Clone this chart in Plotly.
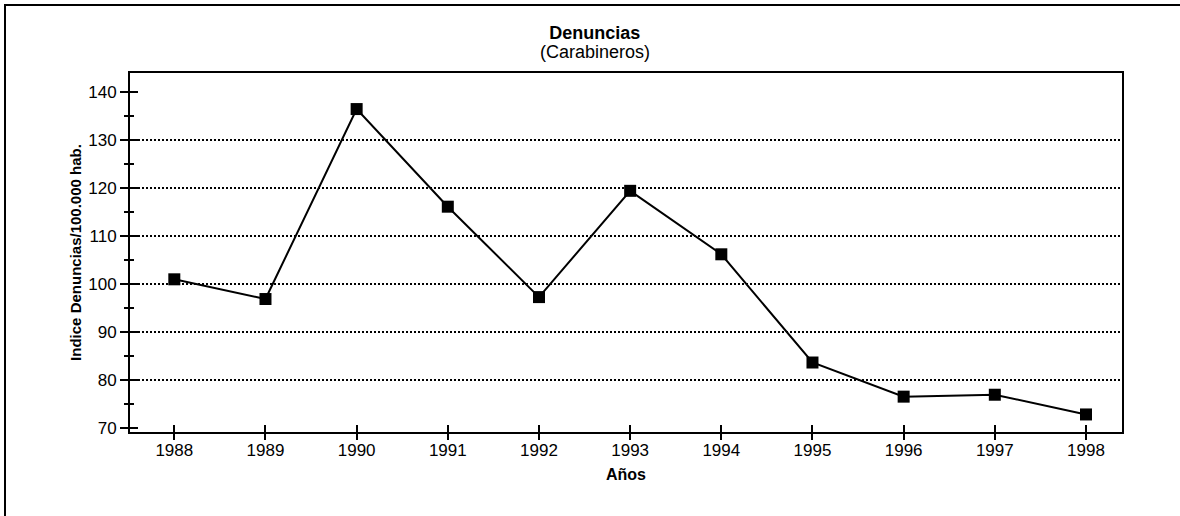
import plotly.graph_objects as go

years = [1988, 1989, 1990, 1991, 1992, 1993, 1994, 1995, 1996, 1997, 1998]
denuncias = [101.0, 96.9, 136.4, 116.1, 97.3, 119.4, 106.2, 83.7, 76.6, 77.0, 72.9]
y_ticks = [70, 80, 90, 100, 110, 120, 130, 140]
grid_vals = [80, 90, 100, 110, 120, 130]

FONT = "Liberation Sans, Arial, sans-serif"
x_range = [1987.514, 1998.395]
y_range = [69.25, 143.9]

fig = go.Figure()
fig.add_trace(go.Scatter(
    x=years, y=denuncias, mode="lines+markers",
    line=dict(color="black", width=2),
    marker=dict(symbol="square", size=12, color="black"),
    showlegend=False, hoverinfo="x+y",
))
# helper invisible traces so the overlay tick / grid axes are drawn
for xa, ya in [("x2", "y2"), ("x3", "y3"), ("x", "y4")]:
    fig.add_trace(go.Scatter(x=years, y=denuncias, xaxis=xa, yaxis=ya, mode="lines",
                             line=dict(width=0), opacity=0, showlegend=False, hoverinfo="skip"))

tick_common = dict(tickwidth=2, tickcolor="black", showline=False, showgrid=False, zeroline=False,
                   showticklabels=False)

fig.update_layout(
    width=1180, height=516,
    margin=dict(l=130, r=58, t=73, b=84),
    paper_bgcolor="white", plot_bgcolor="rgba(0,0,0,0)",
    font=dict(family=FONT, size=17, color="black"),
    title=dict(
        text="<b>Denuncias</b>",
        x=0.504, xref="container", xanchor="center",
        y=1 - 33 / 516, yref="container", yanchor="middle",
        font=dict(family=FONT, size=18, color="black"),
    ),
    annotations=[dict(
        text="(Carabineros)", xref="paper", yref="paper",
        x=(595 - 130) / 992, y=(432 - 52) / 359, xanchor="center", yanchor="middle",
        showarrow=False, font=dict(family=FONT, size=18, color="black"),
    )],
    xaxis=dict(
        range=x_range, tickvals=years, ticktext=[str(y) for y in years],
        ticks="", ticklabelstandoff=2,
        showline=True, linewidth=2, linecolor="black", mirror=True,
        showgrid=False, zeroline=False,
        tickfont=dict(family=FONT, size=17),
        title=dict(text="<b>Años</b>", font=dict(family=FONT, size=16), standoff=9),
    ),
    yaxis=dict(
        range=y_range, tickvals=y_ticks,
        ticks="outside", ticklen=8, tickwidth=2, tickcolor="black",
        minor=dict(dtick=5, tick0=70, ticks="outside", ticklen=4, tickwidth=2, tickcolor="black", showgrid=False),
        showline=True, linewidth=2, linecolor="black", mirror=True,
        showgrid=False, zeroline=False,
        tickfont=dict(family=FONT, size=17),
        title=dict(text="<b>Indice Denuncias/100.000 hab.</b>", font=dict(family=FONT, size=15), standoff=3),
    ),
    xaxis2=dict(overlaying="x", range=x_range, tickvals=years, ticks="outside", ticklen=7, **tick_common),
    xaxis3=dict(overlaying="x", range=x_range, tickvals=years, ticks="inside", ticklen=7, **tick_common),
    yaxis2=dict(overlaying="y", range=y_range, tickvals=y_ticks, ticks="outside", ticklen=8, **tick_common),
    yaxis3=dict(
        overlaying="y", range=y_range, tickvals=y_ticks, ticks="inside", ticklen=8,
        minor=dict(dtick=5, tick0=70, ticks="inside", ticklen=4, tickwidth=2, tickcolor="black", showgrid=False),
        **tick_common,
    ),
    yaxis4=dict(
        overlaying="y", range=y_range, tickvals=grid_vals, showticklabels=False,
        ticks="", showline=False, zeroline=False,
        showgrid=True, gridcolor="black", gridwidth=1.5, griddash="2px,2px",
    ),
    shapes=[dict(
        type="rect", xref="paper", yref="paper",
        x0=(5 - 130) / 992, x1=1.1, y0=-0.4, y1=(432 - 5) / 359,
        line=dict(color="black", width=2), fillcolor="rgba(0,0,0,0)", layer="below",
    )],
)

fig.write_html("out.html", config={"displayModeBar": False},
               post_script="document.body.style.margin='0px';")
